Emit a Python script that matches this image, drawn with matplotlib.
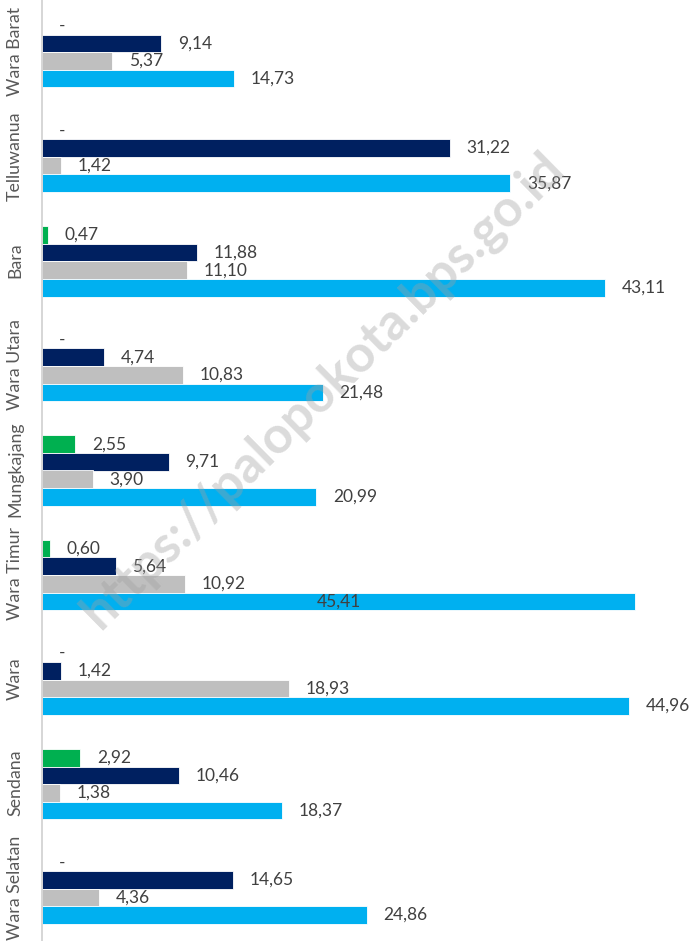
import matplotlib.pyplot as plt
import numpy as np

plt.rcParams['font.family'] = ['Lato', 'DejaVu Sans']

# Data (top to bottom)
kecamatan = ["Wara Barat", "Telluwanua", "Bara", "Wara Utara", "Mungkajang",
             "Wara Timur", "Wara", "Sendana", "Wara Selatan"]
seri_hijau = [0, 0, 0.47, 0, 2.55, 0.60, 0, 2.92, 0]
seri_navy = [9.14, 31.22, 11.88, 4.74, 9.71, 5.64, 1.42, 10.46, 14.65]
seri_abu = [5.37, 1.42, 11.10, 10.83, 3.90, 10.92, 18.93, 1.38, 4.36]
seri_biru = [14.73, 35.87, 43.11, 21.48, 20.99, 45.41, 44.96, 18.37, 24.86]

warna = ["#00B050", "#002060", "#BFBFBF", "#00B0F0"]
semua_seri = [seri_hijau, seri_navy, seri_abu, seri_biru]


def fmt(v):
    if v == 0:
        return "-"
    return f"{v:.2f}".replace(".", ",")


fig = plt.figure(figsize=(6.95, 9.41), dpi=100)
ax = fig.add_axes([42 / 695, 0, 1 - 42 / 695, 1])

n = len(kecamatan)
y = np.arange(n)
h = 0.168
xmax = 50

for i, (vals, c) in enumerate(zip(semua_seri, warna)):
    pos = y + (i - 1.5) * h
    ax.barh(pos, vals, height=h, color=c, edgecolor="white", linewidth=0.6)
    for p, v in zip(pos, vals):
        if v > 45:
            # label would not fit to the right -> put it in the middle of the bar
            ax.text(v / 2, p, fmt(v), ha="center", va="center",
                    fontsize=12.5, color="#404040")
        else:
            ax.annotate(fmt(v), (v, p), xytext=(12, 0), textcoords="offset points",
                        ha="left", va="center", fontsize=12.5, color="#404040")

ax.set_ylim(n - 0.5, -0.5)
ax.set_xlim(0, xmax)
ax.set_xticks([])
ax.set_yticks([])
for s in ["top", "right", "bottom"]:
    ax.spines[s].set_visible(False)
ax.spines["left"].set_color("#D0D0D0")
ax.spines["left"].set_linewidth(1.2)

for yi, nama in zip(y, kecamatan):
    fig.text(15 / 695, 1 - (51.5 + yi * 104.5) / 941, nama, rotation=90,
             ha="center", va="center", fontsize=12.8, color="#595959")

# watermark
fig.text(0.465, 0.585, "https://palopokota.bps.go.id", rotation=44.6,
         ha="center", va="center", fontsize=37, fontweight="bold",
         color="#A0A0A0", alpha=0.38, zorder=10)

fig.savefig("out.png", dpi=100)
